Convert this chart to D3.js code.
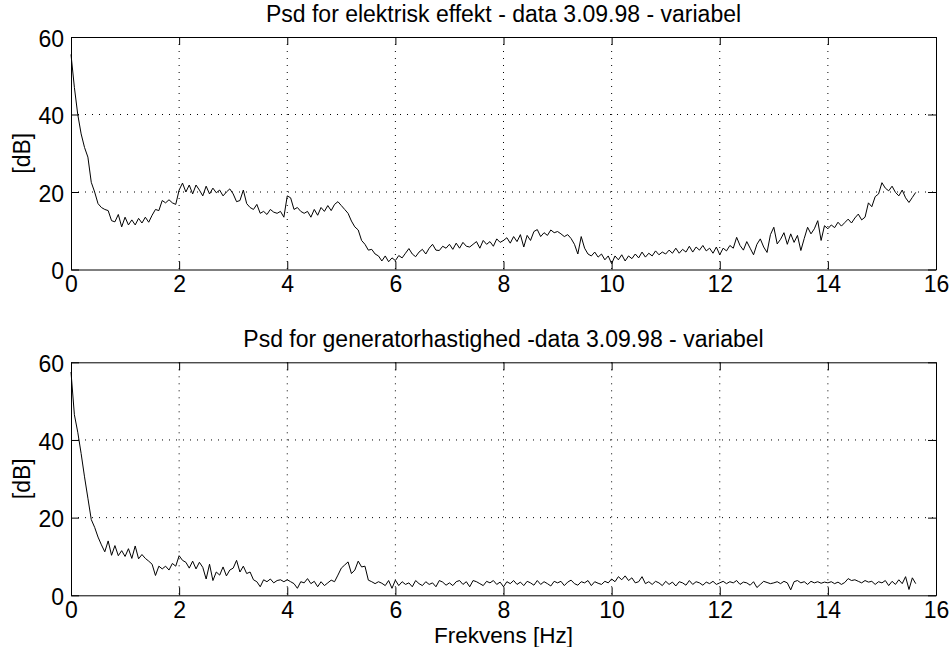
<!DOCTYPE html>
<html>
<head>
<meta charset="utf-8">
<script src="https://cdn.jsdelivr.net/npm/d3@7"></script>
<style>
  html, body { margin: 0; padding: 0; background: #fff; }
  svg { display: block; }
  text { font-family: "Liberation Sans", Arial, Helvetica, sans-serif; fill: #000; }
</style>
</head>
<body>
<svg id="chart" width="950" height="647"></svg>
<script>
// ---- Data ----
const freqStep = 0.0625; // Hz between PSD samples

const titleTop = "Psd for elektrisk effekt - data 3.09.98 - variabel";
const titleBottom = "Psd for generatorhastighed -data 3.09.98 - variabel";
const xLabel = "Frekvens [Hz]";
const yLabel = "[dB]";

const xTicks = [0, 2, 4, 6, 8, 10, 12, 14, 16];
const yTicks = [0, 20, 40, 60];

// PSD of electric power [dB], 0 .. 15.625 Hz
const psdPower = [
  55.5, 47, 40, 35, 31.5, 29, 22.5, 20, 17, 16, 15.5, 15.2, 12.6, 12.3, 14.2, 11,
  13.5, 11.5, 12.8, 11.5, 13.2, 12, 13.5, 12.2, 14, 15.5, 15.2, 17.8, 17.2, 18, 17.2, 16.8,
  20.5, 22.3, 20, 21.8, 19.5, 21.8, 20.5, 19, 21.5, 19.5, 21, 19.8, 20.5, 19, 20, 20.8,
  19.5, 17.5, 17.8, 20.5, 17, 16, 15.5, 16.8, 14.5, 15, 14.2, 15.5, 14.8, 14.5, 15, 13.5,
  19, 18.5, 15.5, 16, 15, 14.5, 15, 13.5, 15.5, 14, 16, 15, 16.5, 15.2, 16.8, 17.5,
  16.5, 15.5, 14.5, 12.5, 11, 10.2, 7.5, 6.5, 5, 5.2, 4, 3.5, 2.2, 3.5, 2, 3,
  2.3, 3.6, 3, 4.2, 5.4, 4, 3.3, 4.5, 5.2, 4, 5.5, 6.5, 5, 4.9, 6, 5.5,
  6.5, 5.2, 6.8, 5.5, 7, 6, 5.8, 6.5, 7.2, 5.5, 7.5, 6.5, 7.2, 6, 7.9, 7,
  7.5, 8.2, 6.8, 8.5, 7.2, 9, 5.8, 8.8, 7.5, 9.8, 10.3, 8.5, 9.5, 8.8, 10.2, 9.5,
  9.8, 9.2, 8.5, 9, 8, 6.5, 4, 8.5, 5.5, 4, 3.5, 4.5, 3.2, 4, 2.5, 3.5,
  1.5, 3.5, 2.5, 3.8, 2.2, 3.5, 2.8, 4, 3, 4.5, 3.2, 4.2, 3.5, 4.8, 3.8, 4.5,
  4, 5, 4.2, 5.5, 4.2, 5.2, 4.5, 6, 4.5, 5.8, 5, 6.2, 4.8, 5.5, 4.2, 5.8,
  3.8, 5.5, 4.8, 6.2, 5.5, 8.3, 6.2, 5, 7.2, 5.5, 3.8, 6.5, 7.9, 5.8, 4.4, 9,
  10.9, 6.6, 7.8, 9.5, 6.5, 9.2, 7, 8.8, 4.9, 8, 10.9, 9.2, 10.5, 12.6, 7.5, 11.3,
  10.5, 11.5, 10.8, 12.2, 11.2, 12.1, 13, 12, 13.3, 14.3, 12.8, 13.5, 17.2, 16.2, 18.8, 19.5,
  22.4, 21, 20.3, 21.5, 19.9, 19, 20.5, 18.5, 17.3, 18.6, 19.9
];

// PSD of generator speed [dB], 0 .. 15.625 Hz
const psdSpeed = [
  57.5, 46.5, 42, 36.5, 30.5, 25, 19.5, 17.5, 15, 13, 11.2, 14, 10.3, 12.8, 10.2, 11.5,
  10, 12, 9.5, 12.7, 9.4, 10.5, 9.5, 8.8, 8, 5.1, 7.5, 6.8, 7.5, 6.5, 8.2, 7.5,
  10.2, 9, 8.5, 7, 8.8, 6.8, 8.5, 7.2, 4.2, 8, 3.8, 6, 5.2, 7.3, 5, 6.5,
  7, 9, 6, 7.5, 5.6, 6, 4, 3.5, 2.2, 4, 3.5, 4.2, 3.2, 3.8, 4, 3.5,
  4, 3.5, 3, 1.8, 3.5, 3.2, 4.3, 3, 3.6, 2.2, 3.5, 2.5, 3.2, 3.9, 3.5, 5.2,
  7, 7.8, 8.6, 5.6, 6.5, 8.8, 7.3, 7.5, 3.9, 3.5, 3, 3.5, 3.1, 2.5, 3.8, 1.8,
  3.9, 2.5, 3.5, 2.8, 3.2, 2.2, 3.8, 3, 2.5, 3.5, 2.8, 3.2, 2.2, 3.8, 3.4, 2.6,
  3.2, 2.5, 3.5, 3.8, 2.8, 3.5, 2.2, 3.8, 3.5, 3, 2.5, 3.6, 3.2, 3.8, 2.8, 3.4,
  2.2, 3.5, 3, 3.8, 2.8, 3.4, 2.5, 3.6, 3.2, 2.6, 3.8, 2.8, 3.5, 3, 2.4, 3.6,
  3.2, 3.6, 2.5, 3.4, 3.9, 3, 2.6, 3.5, 3.2, 3.8, 2.5, 3.5, 3.1, 2.8, 3.6, 3.2,
  4.2, 3.5, 4.8, 4, 5, 3.8, 4.5, 3.2, 3.5, 4.8, 3, 3.5, 2.8, 3.6, 3.2, 2.5,
  3.6, 2.8, 3.4, 2.4, 3.5, 3.2, 2.6, 3.8, 2.8, 3.5, 3.2, 2.6, 3.4, 3, 3.6, 2.8,
  3.2, 3.6, 3, 3.5, 3.2, 3.8, 2.8, 3.4, 3.2, 2.6, 3.5, 2, 2.8, 3.6, 3.3, 3,
  3.2, 3.5, 3, 3.6, 3.2, 1.4, 3.5, 3.8, 3.2, 3.5, 2.8, 3.6, 3.2, 3.5, 3.1, 3.4,
  3.2, 3.5, 3, 3.4, 2.8, 3.3, 4.3, 3.8, 4, 3.6, 3.2, 3.8, 3.4, 3.6, 2.8, 3.5,
  3.2, 3.8, 2.5, 3.6, 2.8, 4, 3, 4.8, 1.5, 4.5, 3
];

// ---- Drawing ----
const svg = d3.select("#chart");
const FONT = 23;

const x = d3.scaleLinear().domain([0, 16]).range([71, 936]);

const panels = [
  { title: titleTop, values: psdPower, top: 37, bottom: 269.5, titleY: 22, xlabel: false },
  { title: titleBottom, values: psdSpeed, top: 362.3, bottom: 595.3, titleY: 347, xlabel: true }
];

panels.forEach(p => {
  const y = d3.scaleLinear().domain([0, 60]).range([p.bottom, p.top]);
  const g = svg.append("g");

  // grid (dotted)
  const grid = g.append("g").attr("stroke", "#000").attr("stroke-width", 1)
    .attr("stroke-dasharray", "1,6").attr("fill", "none");
  xTicks.slice(1, -1).forEach(t => {
    grid.append("line").attr("x1", x(t)).attr("x2", x(t))
      .attr("y1", p.top).attr("y2", p.bottom);
  });
  yTicks.slice(1, -1).forEach(t => {
    grid.append("line").attr("x1", x(0)).attr("x2", x(16))
      .attr("y1", y(t)).attr("y2", y(t));
  });

  // data line
  const line = d3.line()
    .x((d, i) => x(i * freqStep))
    .y(d => y(d));
  g.append("path").datum(p.values)
    .attr("fill", "none").attr("stroke", "#000").attr("stroke-width", 1)
    .attr("stroke-linejoin", "round")
    .attr("d", line);

  // axes with inward ticks on all four sides
  const ax = (sel) => sel.selectAll("text").attr("font-size", FONT)
    .style("font-family", '"Liberation Sans", Arial, Helvetica, sans-serif');

  const bottomAxis = g.append("g").attr("transform", `translate(0,${p.bottom})`)
    .call(d3.axisBottom(x).tickValues(xTicks).tickSizeInner(-8).tickSizeOuter(0)
      .tickPadding(6).tickFormat(d3.format("d")));
  ax(bottomAxis);
  const leftAxis = g.append("g").attr("transform", `translate(${x(0)},0)`)
    .call(d3.axisLeft(y).tickValues(yTicks).tickSizeInner(-8).tickSizeOuter(0)
      .tickPadding(7).tickFormat(d3.format("d")));
  ax(leftAxis);
  leftAxis.selectAll("text").attr("dy", "0.4em");
  g.append("g").attr("transform", `translate(0,${p.top})`)
    .call(d3.axisTop(x).tickValues(xTicks).tickSizeInner(-8).tickSizeOuter(0).tickFormat(""));
  g.append("g").attr("transform", `translate(${x(16)},0)`)
    .call(d3.axisRight(y).tickValues(yTicks).tickSizeInner(-8).tickSizeOuter(0).tickFormat(""));
  g.selectAll(".domain").attr("stroke", "#000");
  g.selectAll(".tick line").attr("stroke", "#000");

  // title
  g.append("text").attr("x", (x(0) + x(16)) / 2).attr("y", p.titleY)
    .attr("text-anchor", "middle").attr("font-size", FONT).text(p.title);

  // y label
  g.append("text")
    .attr("transform", `translate(30,${(p.top + p.bottom) / 2}) rotate(-90)`)
    .attr("text-anchor", "middle").attr("font-size", FONT).text(yLabel);

  if (p.xlabel) {
    g.append("text").attr("x", (x(0) + x(16)) / 2).attr("y", 643)
      .attr("text-anchor", "middle").attr("font-size", 22.5).text(xLabel);
  }
});
</script>
</body>
</html>
